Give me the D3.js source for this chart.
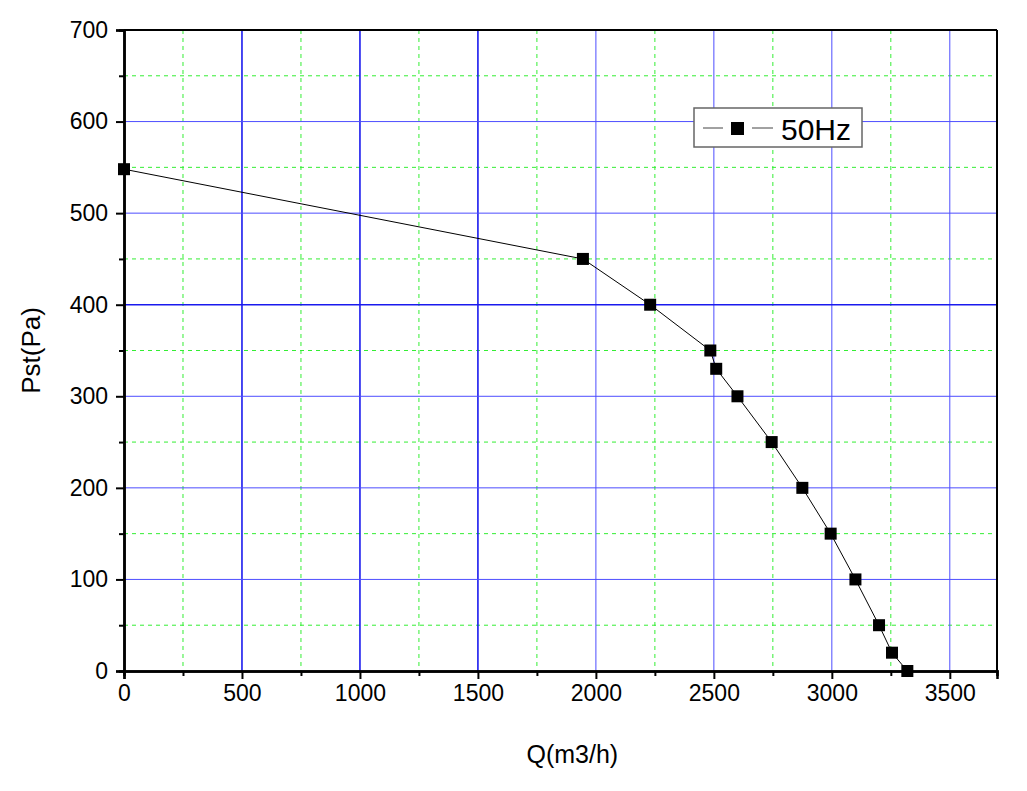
<!DOCTYPE html><html><head><meta charset="utf-8"><script src="https://cdn.jsdelivr.net/npm/d3@7"></script>
<style>body{margin:0;background:#fff}text{font-family:Arial,"Liberation Sans",sans-serif}</style></head><body><svg id="c" width="1027" height="791"></svg>
<script>
const flow=[0,1945,2230,2485,2510,2600,2745,2875,2995,3100,3200,3255,3320];
const pressure=[548,450,400,350,330,300,250,200,150,100,50,20,0];
const xTicks=[0,500,1000,1500,2000,2500,3000,3500];
const yTicks=[0,100,200,300,400,500,600,700];
const seriesName="50Hz";
const svg=d3.select("#c");
const L=124,R=997,T=30,B=671;
const x=d3.scaleLinear().domain([0,3700]).range([L,R]);
const y=d3.scaleLinear().domain([0,700]).range([B,T]);
const g=svg.append("g");
d3.range(250,3700,500).forEach(v=>g.append("line").attr("x1",x(v)).attr("x2",x(v)).attr("y1",T).attr("y2",B).attr("stroke","#33ee33").attr("stroke-dasharray","4,4"));
d3.range(50,700,100).forEach(v=>g.append("line").attr("y1",y(v)).attr("y2",y(v)).attr("x1",L).attr("x2",R).attr("stroke","#33ee33").attr("stroke-dasharray","4,4"));
xTicks.slice(1).forEach(v=>g.append("line").attr("x1",x(v)).attr("x2",x(v)).attr("y1",T).attr("y2",B).attr("stroke",v<=1500?"#1a1aee":"#4d4dff").attr("stroke-width",v<=1500?1.6:1));
yTicks.slice(1,-1).forEach(v=>g.append("line").attr("y1",y(v)).attr("y2",y(v)).attr("x1",L).attr("x2",R).attr("stroke",v==400?"#1a1aee":"#4d4dff").attr("stroke-width",v==400?1.6:1));
svg.append("line").attr("x1",L).attr("x2",R).attr("y1",T).attr("y2",T).attr("stroke","#000").attr("stroke-width",2);
svg.append("line").attr("x1",R).attr("x2",R).attr("y1",T).attr("y2",B).attr("stroke","#000").attr("stroke-width",2);
const fmt=d3.format("d");
const xa=svg.append("g").attr("transform",`translate(0,${B})`).call(d3.axisBottom(x).tickValues(xTicks).tickFormat(fmt).tickSize(8).tickPadding(6));
const xm=svg.append("g").attr("transform",`translate(0,${B})`).call(d3.axisBottom(x).tickValues(d3.range(250,3700,500)).tickSize(5).tickFormat(""));
const ya=svg.append("g").attr("transform",`translate(${L},0)`).call(d3.axisLeft(y).tickValues(yTicks).tickFormat(fmt).tickSize(8).tickPadding(8));
const ym=svg.append("g").attr("transform",`translate(${L},0)`).call(d3.axisLeft(y).tickValues(d3.range(50,700,100)).tickSize(5).tickFormat(""));
[xa,xm,ya,ym].forEach(a=>{a.select(".domain").attr("stroke-width",2.5);a.selectAll(".tick line").attr("stroke-width",2);a.selectAll("text").style("font-size","23px").attr("fill","#000")});
svg.append("text").attr("x",x(1900)).attr("y",763).attr("text-anchor","middle").style("font-size","25px").text("Q(m3/h)");
svg.append("text").attr("transform",`translate(40,${y(350)}) rotate(-90)`).attr("text-anchor","middle").style("font-size","26px").text("Pst(Pa)");
const pts=flow.map((f,i)=>[f,pressure[i]]);
svg.append("path").datum(pts).attr("d",d3.line().x(d=>x(d[0])).y(d=>y(d[1]))).attr("fill","none").attr("stroke","#000").attr("stroke-width",1);
svg.selectAll("rect.m").data(pts).join("rect").attr("class","m").attr("x",d=>x(d[0])-6).attr("y",d=>y(d[1])-6).attr("width",12).attr("height",12).attr("fill","#000");
const lg=svg.append("g");
lg.append("rect").attr("x",694).attr("y",108).attr("width",168).attr("height",39).attr("fill","#fff").attr("stroke","#666").attr("stroke-width",1.5);
lg.append("line").attr("x1",703).attr("x2",723).attr("y1",128).attr("y2",128).attr("stroke","#444");
lg.append("line").attr("x1",752).attr("x2",773).attr("y1",128).attr("y2",128).attr("stroke","#444");
lg.append("rect").attr("x",731).attr("y",122).attr("width",13).attr("height",13).attr("fill","#000");
lg.append("text").attr("x",781).attr("y",140).style("font-size","30px").text(seriesName);
</script></body></html>
